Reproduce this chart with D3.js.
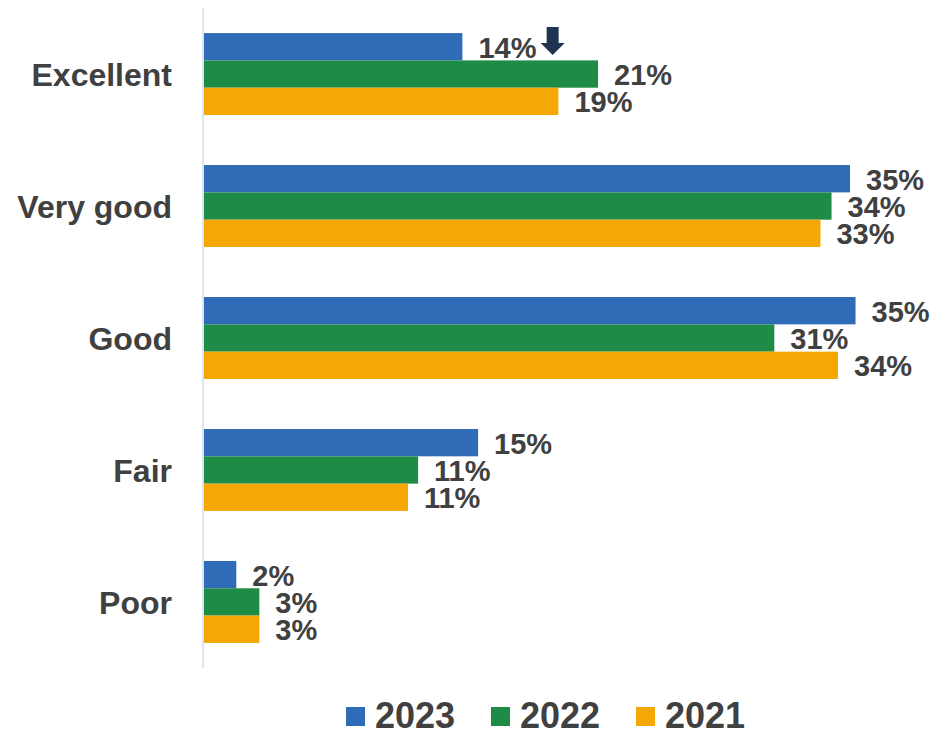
<!DOCTYPE html>
<html>
<head>
<meta charset="utf-8">
<script src="https://cdn.jsdelivr.net/npm/d3@7"></script>
<style>
  body { margin: 0; background: #fff; }
  text { font-family: "Liberation Sans", Arial, sans-serif; font-weight: bold; fill: #404040; }
</style>
</head>
<body>
<div id="chart"></div>
<script>
// categories, top to bottom
const categories = ['Excellent', 'Very good', 'Good', 'Fair', 'Poor'];
const years = ['2023', '2022', '2021'];
const colors = ['#2F6BB6', '#1E8C47', '#F5A805'];

// bar lengths (percent), one array per year
const values2023 = [14.0, 35.0, 35.3, 14.85, 1.75];
const values2022 = [21.35, 34.0, 30.9, 11.6, 3.0];
const values2021 = [19.2, 33.4, 34.35, 11.05, 3.0];

// printed labels
const labels2023 = ['14%', '35%', '35%', '15%', '2%'];
const labels2022 = ['21%', '34%', '31%', '11%', '3%'];
const labels2021 = ['19%', '33%', '34%', '11%', '3%'];

const series = [
  {year: years[0], values: values2023, labels: labels2023, color: colors[0]},
  {year: years[1], values: values2022, labels: labels2022, color: colors[1]},
  {year: years[2], values: values2021, labels: labels2021, color: colors[2]}
];

const W = 938, H = 735;
const x0 = 204;

let svg = d3.select('#chart')
  .append('svg')
  .attr('width', W)
  .attr('height', H);

let x = d3.scaleLinear()
  .domain([0, 35])
  .range([x0, 850]);

let y = d3.scaleBand()
  .domain(categories)
  .range([8, 668])
  .paddingInner(0.379)
  .paddingOuter(0.19);

let ySub = d3.scaleBand()
  .domain(years)
  .range([0, y.bandwidth()]);

// vertical axis line
svg.append('line')
  .attr('x1', x0 - 1).attr('x2', x0 - 1)
  .attr('y1', 8).attr('y2', 668)
  .attr('stroke', '#DCE6F2')
  .attr('stroke-width', 2);

// category labels
svg.append('g')
  .selectAll('text')
  .data(categories)
  .join('text')
  .attr('x', 172)
  .attr('y', d => y(d) + y.bandwidth() / 2 + 12)
  .attr('text-anchor', 'end')
  .style('font-size', '32px')
  .text(d => d);

let groups = svg.append('g')
  .selectAll('g')
  .data(series)
  .join('g');

groups.selectAll('rect')
  .data(s => s.values.map((v, i) => ({s: s, v: v, cat: categories[i]})))
  .join('rect')
  .attr('x', x(0))
  .attr('y', d => y(d.cat) + ySub(d.s.year))
  .attr('width', d => x(d.v) - x(0))
  .attr('height', ySub.bandwidth())
  .attr('fill', d => d.s.color);

groups.selectAll('text')
  .data(s => s.values.map((v, i) => ({s: s, v: v, cat: categories[i], label: s.labels[i]})))
  .join('text')
  .attr('class', d => 'lbl-' + d.s.year + '-' + d.cat.replace(' ', '_'))
  .attr('x', d => x(d.v) + 16)
  .attr('y', d => y(d.cat) + ySub(d.s.year) + ySub.bandwidth() / 2 + 11)
  .style('font-size', '29px')
  .text(d => d.label);

// down arrow next to the 2023 Excellent label
let ref = svg.select('.lbl-2023-Excellent').node().getBBox();
let barTop = y('Excellent') + ySub('2023');
let ax = ref.x + ref.width + 16;
svg.append('path')
  .attr('d', 'M' + (ax - 6) + ',' + (barTop - 6) +
    'h12v16h6l-12,12l-12,-12h6z')
  .attr('fill', '#1F3452');

// legend
let legend = svg.append('g')
  .attr('transform', 'translate(346,707)');

let item = legend.selectAll('g')
  .data(series)
  .join('g')
  .attr('transform', (d, i) => 'translate(' + (i * 145) + ',0)');

item.append('rect')
  .attr('width', 19)
  .attr('height', 19)
  .attr('fill', d => d.color);

item.append('text')
  .attr('x', 29)
  .attr('y', 21)
  .style('font-size', '36px')
  .text(d => d.year);
</script>
</body>
</html>
